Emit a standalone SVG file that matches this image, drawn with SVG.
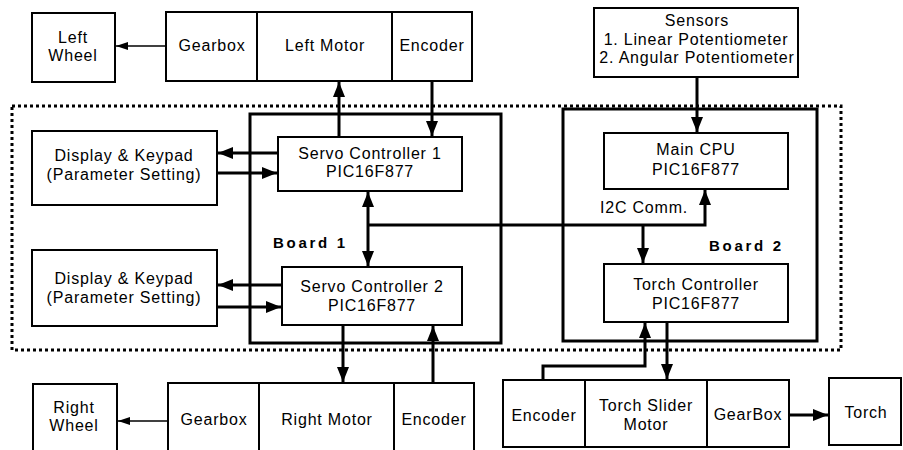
<svg xmlns="http://www.w3.org/2000/svg" width="903" height="450" viewBox="0 0 903 450">
<style>
.box{fill:#fff;stroke:#000;stroke-width:2}
.board{fill:none;stroke:#000;stroke-width:3}
.dotted{fill:none;stroke:#000;stroke-width:3;stroke-dasharray:3 3}
.thick{fill:none;stroke:#000;stroke-width:3}
.thin{fill:none;stroke:#000;stroke-width:1.5}
text{font-family:"Liberation Sans",Arial,sans-serif;font-size:16px;letter-spacing:0.8px;text-anchor:middle;fill:#000}
.bold{font-weight:bold;font-size:15px;letter-spacing:2.7px;text-anchor:start}
</style>
<defs>
<marker id="ah" markerUnits="userSpaceOnUse" markerWidth="15" markerHeight="12" refX="15" refY="6" orient="auto-start-reverse">
<path d="M0,0 L15,6 L0,12 z" fill="#000"/>
</marker>
<marker id="ahs" markerUnits="userSpaceOnUse" markerWidth="12" markerHeight="8" refX="12" refY="4" orient="auto">
<path d="M0,0 L12,4 L0,8 z" fill="#000"/>
</marker>
</defs>
<rect class="dotted" x="12" y="106" width="829" height="244"/>
<g id="board1"><rect class="board" x="250" y="114" width="251" height="229"/><text class="bold" x="273" y="248">Board 1</text></g>
<g id="board2"><rect class="board" x="563" y="109" width="254" height="232"/><text class="bold" x="709" y="251">Board 2</text></g>
<g id="left-wheel"><rect class="box" x="32" y="13" width="83" height="69"/><text x="73" y="43">Left</text><text x="73" y="61">Wheel</text></g>
<g id="gearbox-top"><rect class="box" x="166" y="12" width="91" height="69"/><text x="212" y="51">Gearbox</text></g>
<g id="left-motor"><rect class="box" x="257" y="12" width="135" height="69"/><text x="325" y="51">Left Motor</text></g>
<g id="encoder-top"><rect class="box" x="392" y="12" width="80" height="69"/><text x="432" y="51">Encoder</text></g>
<g id="sensors"><rect class="box" x="594" y="8" width="204" height="69"/><text x="697" y="26">Sensors</text><text x="696" y="45">1. Linear Potentiometer</text><text x="697" y="63">2. Angular Potentiometer</text></g>
<g id="display1"><rect class="box" x="32" y="131" width="185" height="74"/><text x="124" y="161">Display &amp; Keypad</text><text x="124" y="180">(Parameter Setting)</text></g>
<g id="display2"><rect class="box" x="32" y="250" width="185" height="76"/><text x="124" y="284">Display &amp; Keypad</text><text x="124" y="303">(Parameter Setting)</text></g>
<g id="servo1"><rect class="box" x="278" y="137" width="184" height="54"/><text x="370" y="159">Servo Controller 1</text><text x="370" y="177">PIC16F877</text></g>
<g id="servo2"><rect class="box" x="282" y="267" width="180" height="58"/><text x="372" y="292">Servo Controller 2</text><text x="372" y="311">PIC16F877</text></g>
<g id="main-cpu"><rect class="box" x="604" y="133" width="184" height="56"/><text x="696" y="155">Main CPU</text><text x="696" y="175">PIC16F877</text></g>
<g id="torch-controller"><rect class="box" x="604" y="264" width="184" height="58"/><text x="696" y="290">Torch Controller</text><text x="696" y="309">PIC16F877</text></g>
<g id="right-wheel"><rect class="box" x="33" y="384" width="84" height="72"/><text x="74" y="413">Right</text><text x="74" y="431">Wheel</text></g>
<g id="gearbox-bottom"><rect class="box" x="168" y="383" width="91" height="73"/><text x="214" y="425">Gearbox</text></g>
<g id="right-motor"><rect class="box" x="259" y="383" width="135" height="73"/><text x="327" y="425">Right Motor</text></g>
<g id="encoder-bottom"><rect class="box" x="394" y="383" width="80" height="73"/><text x="434" y="425">Encoder</text></g>
<g id="encoder-torch"><rect class="box" x="503" y="380" width="82" height="67"/><text x="544" y="421">Encoder</text></g>
<g id="torch-slider-motor"><rect class="box" x="585" y="380" width="122" height="67"/><text x="646" y="411">Torch Slider</text><text x="646" y="430">Motor</text></g>
<g id="gearbox-torch"><rect class="box" x="707" y="380" width="82" height="67"/><text x="748" y="420">GearBox</text></g>
<g id="torch"><rect class="box" x="829" y="378" width="72" height="67"/><text x="866" y="418">Torch</text></g>
<g id="connectors">
<path class="thin" d="M166,46 L116,46" marker-end="url(#ahs)"/>
<path class="thin" d="M168,421 L118,421" marker-end="url(#ahs)"/>
<path class="thick" d="M339,137 L339,82" marker-end="url(#ah)"/>
<path class="thick" d="M432,81 L432,136" marker-end="url(#ah)"/>
<path class="thick" d="M697,77 L697,132" marker-end="url(#ah)"/>
<path class="thick" d="M278,153 L218,153" marker-end="url(#ah)"/>
<path class="thick" d="M217,173 L277,173" marker-end="url(#ah)"/>
<path class="thick" d="M282,285 L218,285" marker-end="url(#ah)"/>
<path class="thick" d="M217,307 L281,307" marker-end="url(#ah)"/>
<path class="thick" d="M368,192 L368,266" marker-start="url(#ah)" marker-end="url(#ah)"/>
<path class="thick" d="M368,225 L705,225 L705,190" marker-end="url(#ah)"/>
<path class="thick" d="M643,225 L643,263" marker-end="url(#ah)"/>
<path class="thick" d="M343,325 L343,382" marker-end="url(#ah)"/>
<path class="thick" d="M433,383 L433,326" marker-end="url(#ah)"/>
<path class="thick" d="M543,380 L543,366 L645,366 L645,323" marker-end="url(#ah)"/>
<path class="thick" d="M667,322 L667,379" marker-end="url(#ah)"/>
<path class="thick" d="M789,415 L828,415" marker-end="url(#ah)"/>
</g>
<text x="644" y="213">I2C Comm.</text>
</svg>
